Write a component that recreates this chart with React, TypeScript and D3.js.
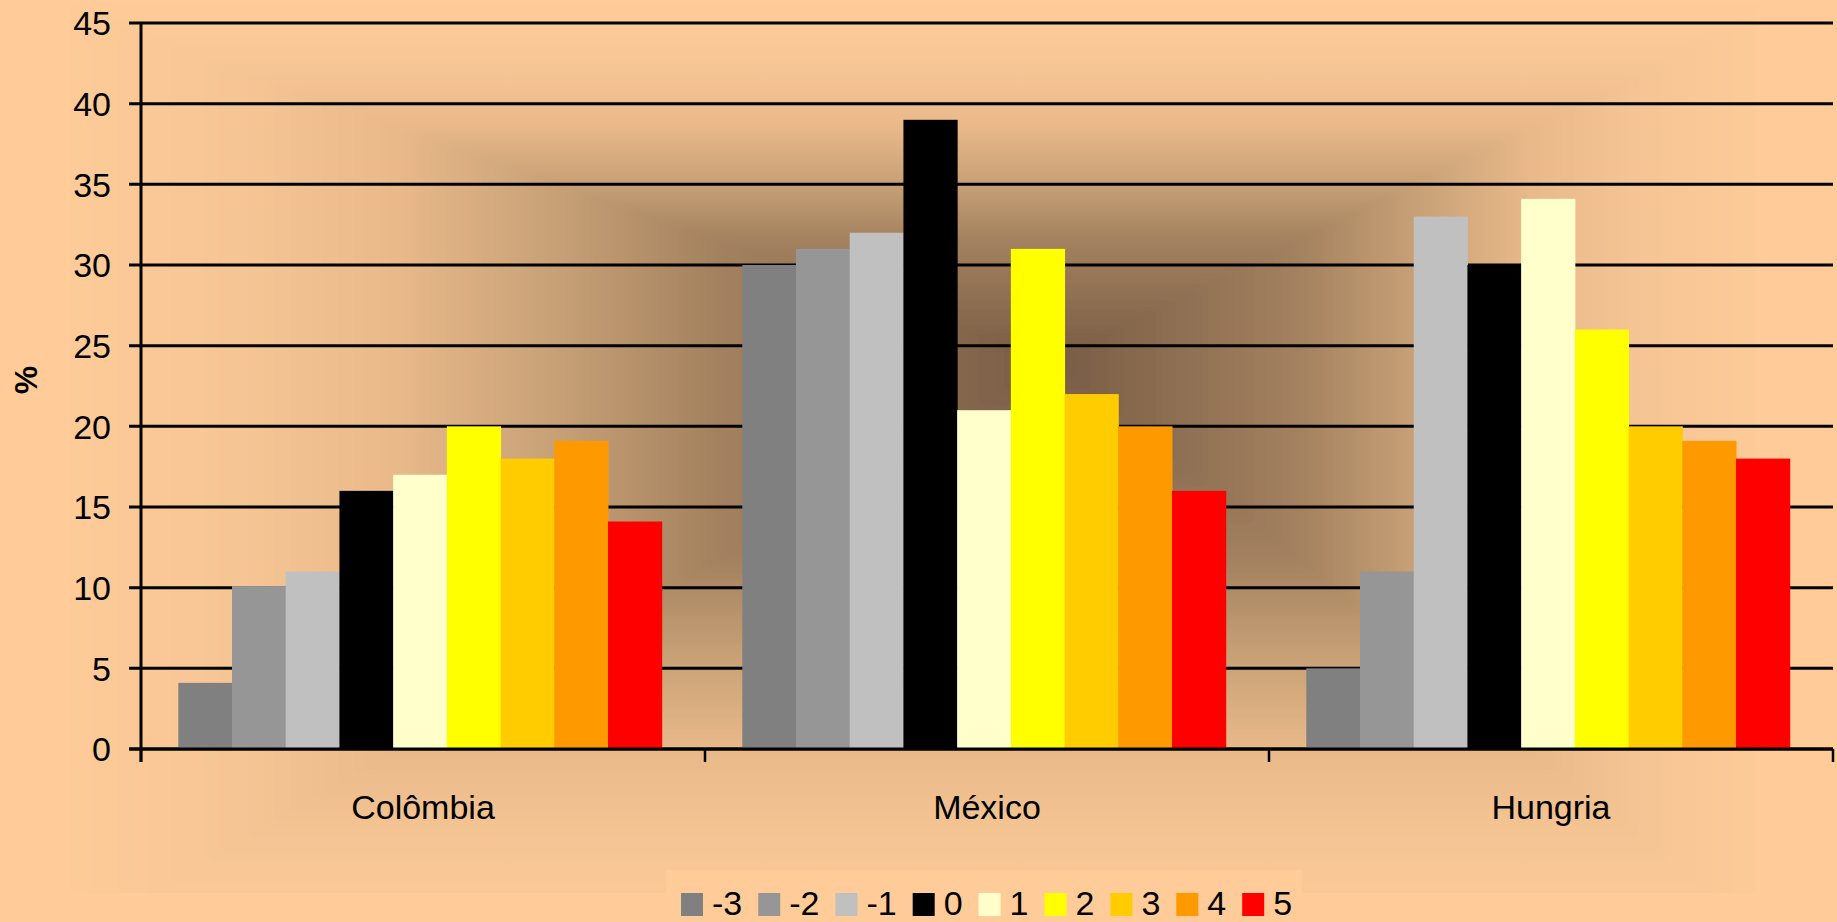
import * as d3 from 'd3';

const categories = ['Colômbia', 'México', 'Hungria'];
const seriesKeys = ['-3', '-2', '-1', '0', '1', '2', '3', '4', '5'];
const seriesColors = ['#808080', '#969696', '#C0C0C0', '#000000', '#FFFFCC', '#FFFF00', '#FFCC00', '#FF9900', '#FF0000'];
// one array per country, in the order of seriesKeys
const colombia = [4.1, 10.1, 11, 16, 17, 20, 18, 19.1, 14.1];
const mexico = [30, 31, 32, 39, 21, 31, 22, 20, 16];
const hungria = [5, 11, 33, 30, 34.1, 26, 20, 19.1, 18];
const yTicks = [0, 5, 10, 15, 20, 25, 30, 35, 40, 45];

const W = 1837;
const H = 922;
const FONT = '"Liberation Sans", Arial, sans-serif';

const App = () => {
  const values = [colombia, mexico, hungria];

  const x0 = d3.scaleBand().domain(categories).range([141, 1833]).padding(0);
  const x1 = d3.scaleBand().domain(seriesKeys).range([-3, x0.bandwidth() - 3]).paddingInner(0).paddingOuter(0.75);
  const y = d3.scaleLinear().domain([0, 45]).range([749, 23]);

  // background shading, rectangular "from center" gradient built from 4 triangles
  const cx = 1054, cy = 360;
  const gx0 = 40, gx1 = 1790, gy0 = 0, gy1 = 960;
  const stops = [
    [0, '#785C45'], [0.33, '#A3815F'], [0.5, '#C9A277'],
    [0.65, '#E9B98A'], [0.8, '#F6C594'], [1, '#FFCC99'],
  ];
  const tris = [
    { id: 'gTop', pts: [[gx0, gy0], [gx1, gy0], [cx, cy]], to: [cx, gy0] },
    { id: 'gBot', pts: [[gx0, gy1], [gx1, gy1], [cx, cy]], to: [cx, gy1] },
    { id: 'gLeft', pts: [[gx0, gy0], [gx0, gy1], [cx, cy]], to: [gx0, cy] },
    { id: 'gRight', pts: [[gx1, gy0], [gx1, gy1], [cx, cy]], to: [gx1, cy] },
  ];

  // legend layout
  const fs = 34;
  let lx = 681;
  const legendItems = seriesKeys.map((k, i) => {
    const tw = k.split('').reduce((s, c) => s + (c === '-' ? 0.333 : 0.556) * fs, 0);
    const item = { k, color: seriesColors[i], x: lx };
    lx += 22 + 9 + tw + 16;
    return item;
  });

  return (
    <svg width={W} height={H} style={{ position: 'absolute', left: 0, top: 0 }} fontFamily={FONT}>
      <defs>
        {tris.map(t => (
          <linearGradient key={t.id} id={t.id} gradientUnits="userSpaceOnUse" x1={cx} y1={cy} x2={t.to[0]} y2={t.to[1]}>
            {stops.map(s => <stop key={s[0]} offset={s[0]} stopColor={s[1]} />)}
          </linearGradient>
        ))}
        <clipPath id="bgClip">
          <rect x={70} y={0} width={1757 - 70} height={893} />
        </clipPath>
        <filter id="soft" x="-5%" y="-5%" width="110%" height="110%">
          <feGaussianBlur stdDeviation="3" />
        </filter>
      </defs>

      <rect width={W} height={H} fill="#FFCC99" />
      <g clipPath="url(#bgClip)">
        <g filter="url(#soft)">
          {tris.map(t => (
            <polygon key={t.id} points={t.pts.map(p => p.join(',')).join(' ')} fill={`url(#${t.id})`} stroke={`url(#${t.id})`} strokeWidth={2} />
          ))}
        </g>
      </g>

      {/* gridlines */}
      {yTicks.map(v => (
        <line key={v} x1={129} x2={1833} y1={y(v)} y2={y(v)} stroke="#000" strokeWidth={3} />
      ))}

      {/* bars */}
      {categories.map((c, ci) => (
        <g key={c} transform={`translate(${x0(c)},0)`}>
          {seriesKeys.map((k, si) => (
            <rect key={k} x={x1(k)} y={y(values[ci][si])} width={x1.bandwidth() + 0.5}
              height={y(0) - y(values[ci][si])} fill={seriesColors[si]} />
          ))}
        </g>
      ))}

      {/* axes */}
      <line x1={141} x2={141} y1={23} y2={762} stroke="#000" strokeWidth={3} />
      <line x1={129} x2={1833} y1={y(0)} y2={y(0)} stroke="#000" strokeWidth={3} />
      {[...categories.map(c => x0(c)), 1833].map((xv, i) => (
        <line key={i} x1={xv} x2={xv} y1={749} y2={762} stroke="#000" strokeWidth={2.5} />
      ))}

      {yTicks.map(v => (
        <text key={v} x={111} y={y(v)} dy="0.36em" textAnchor="end" fontSize={fs} fill="#000">{v}</text>
      ))}
      {categories.map(c => (
        <text key={c} x={x0(c) + x0.bandwidth() / 2} y={819} textAnchor="middle" fontSize={fs} fill="#000">{c}</text>
      ))}
      <text transform="translate(37,380) rotate(-90)" textAnchor="middle" fontSize={32} fontWeight="bold" fill="#000">%</text>

      {/* legend */}
      <rect x={666} y={870} width={636} height={60} fill="#FFCC99" />
      {legendItems.map(it => (
        <g key={it.k}>
          <rect x={it.x} y={893} width={22} height={23} fill={it.color} />
          <text x={it.x + 31} y={915} fontSize={fs} fill="#000">{it.k}</text>
        </g>
      ))}
    </svg>
  );
};

export default App;
